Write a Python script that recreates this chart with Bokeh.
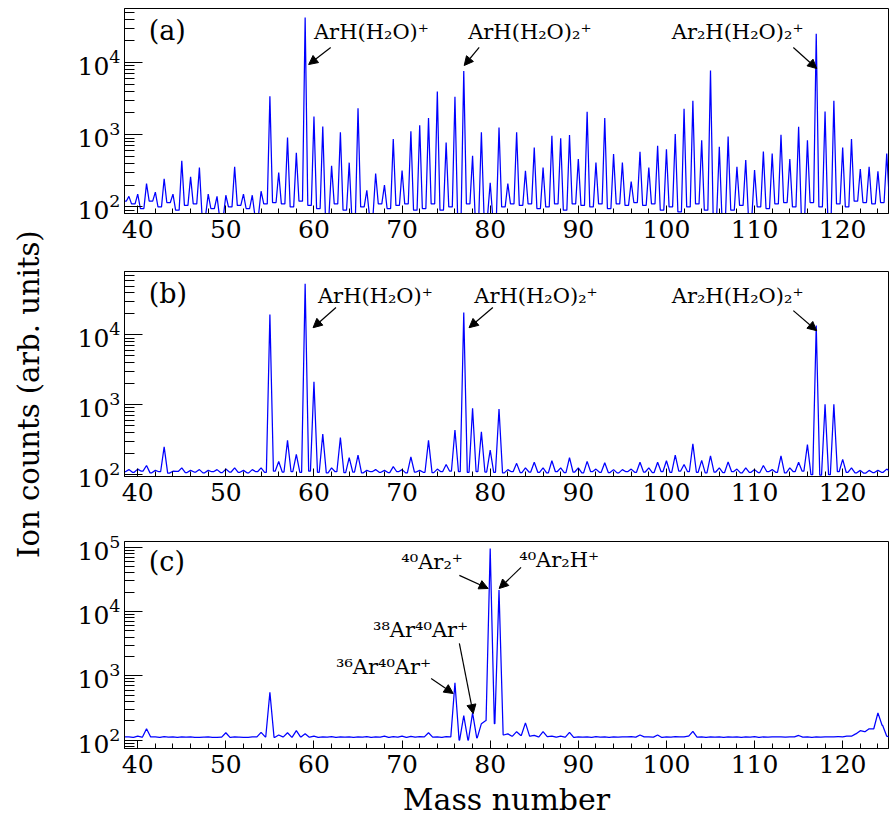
import math
from bokeh.plotting import figure
from bokeh.models import Range1d, SingleIntervalTicker, LogTicker, Arrow, NormalHead, Label
from bokeh.layouts import row, column
from bokeh.embed import file_html
from bokeh.resources import INLINE
from bokeh.core.properties import value

# ---------------- data ----------------
MASSES = list(range(39, 126))          # integer mass numbers 39..125

# panel (a): peak height at each integer mass
A_PEAKS = [140, 150, 210, 160, 245, 150, 435, 262, 350, 150,      # 39-48
           140, 145, 360, 150, 145, 165, 3400, 300, 915, 560,     # 49-58
           42000, 1780, 1300, 370, 1080, 410, 2330, 170, 290, 200,  # 59-68
           870, 320, 1120, 1350, 1700, 3950, 780, 3360, 7600, 510,  # 69-78
           1080, 216, 1260, 210, 1080, 316, 665, 350, 970, 890,     # 79-88
           990, 460, 2080, 410, 1700, 540, 410, 225, 580, 350,      # 89-98
           700, 630, 1020, 2280, 2960, 840, 7740, 680, 940, 360,    # 99-108
           445, 325, 585, 550, 1000, 460, 1290, 840, 25000, 2100,   # 109-118
           2960, 665, 870, 335, 360, 310, 550]                      # 119-125
# panel (a): baseline level between masses (38.5, 39.5, ..., 125.5)
A_VALLEYS = [120, 110, 95, 120, 100, 115, 90, 105, 110, 75,
             95, 70, 100, 105, 95, 75, 110, 115, 110, 100,
             120, 105, 95, 75, 110, 90, 70, 100, 75, 110,
             95, 105, 110, 90, 95, 110, 90, 100, 75, 110,
             70, 75, 70, 100, 110, 105, 110, 95, 100, 110,
             90, 110, 105, 100, 110, 95, 110, 105, 115, 105,
             110, 90, 100, 85, 100, 110, 90, 75, 70, 90,
             105, 75, 100, 95, 110, 115, 100, 80, 115, 100,
             80, 110, 100, 120, 115, 110, 115, 120]

# panel (b)
B_PEAKS = [118, 120, 135, 115, 250, 112, 125, 115, 118, 115,
           118, 120, 125, 115, 118, 125, 19600, 154, 310, 195,
           54000, 2140, 380, 125, 340, 175, 190, 115, 118, 115,
           130, 118, 180, 115, 310, 120, 140, 435, 21000, 890,
           410, 225, 870, 118, 145, 125, 150, 125, 158, 125,
           175, 125, 155, 120, 148, 118, 118, 120, 150, 125,
           150, 158, 190, 140, 275, 160, 185, 125, 152, 120,
           125, 118, 135, 118, 185, 125, 150, 270, 13600, 1020,
           1020, 165, 125, 115, 115, 115, 120]
B_VALLEYS = [110, 108, 112, 106, 110, 105, 111, 107, 109, 106,
             110, 107, 109, 108, 106, 110, 108, 112, 109, 110,
             108, 112, 108, 106, 110, 107, 109, 106, 110, 108,
             107, 110, 106, 109, 108, 107, 110, 112, 110, 108,
             110, 109, 108, 106, 110, 107, 109, 108, 106, 110,
             107, 109, 106, 110, 108, 107, 106, 110, 108, 109,
             107, 110, 108, 112, 110, 108, 106, 109, 107, 110,
             106, 108, 107, 110, 108, 106, 110, 112, 100, 98,
             100, 110, 108, 106, 105, 107, 108, 110]

# panel (c)
C_PEAKS = [112, 115, 150, 112, 113, 112, 112, 112, 110, 112,
           110, 130, 112, 110, 112, 132, 555, 120, 130, 140,
           125, 115, 112, 113, 112, 112, 112, 113, 112, 115,
           113, 115, 114, 113, 130, 112, 113, 780, 240, 265,
           180, 94500, 21400, 125, 135, 185, 118, 135, 115, 115,
           132, 112, 112, 113, 112, 112, 112, 113, 120, 112,
           120, 112, 113, 112, 137, 112, 112, 112, 112, 112,
           112, 113, 112, 112, 112, 112, 118, 112, 112, 112,
           112, 112, 115, 140, 150, 265, 115]
C_VALLEYS = [112, 110, 111, 112, 110, 111, 110, 111, 110, 111,
             110, 111, 110, 111, 110, 112, 112, 110, 112, 111,
             112, 111, 110, 111, 110, 111, 110, 111, 110, 111,
             110, 111, 110, 111, 112, 111, 110, 112, 100, 100,
             108, 200, 180, 120, 115, 118, 115, 112, 113, 111,
             111, 110, 111, 110, 111, 110, 111, 112, 111, 112,
             111, 110, 111, 112, 115, 111, 110, 111, 110, 111,
             110, 111, 110, 111, 112, 111, 112, 111, 110, 111,
             112, 113, 115, 125, 135, 150, 170, 110]

X_TICK_STEP = 10
FONT = "DejaVu Serif"
BLUE = "#0000ff"


def trace(peaks, valleys, half):
    xs = [MASSES[0] - 0.5]
    ys = [valleys[0]]
    for i, m in enumerate(MASSES):
        xs += [m - half, m, m + half, m + 0.5]
        ys += [valleys[i], peaks[i], valleys[i + 1], valleys[i + 1]]
    return xs, ys


def panel(height, top, bottom, yr, peaks, valleys, half, xlabel=None):
    p = figure(width=829, height=height, x_range=Range1d(38.5, 125.2),
               y_range=Range1d(*yr), y_axis_type="log",
               output_backend="svg", toolbar_location=None, title=None,
               min_border_left=64, min_border_right=1,
               min_border_top=top, min_border_bottom=bottom)
    xs, ys = trace(peaks, valleys, half)
    p.line(xs, ys, line_color=BLUE, line_width=1.25)
    p.xgrid.visible = False
    p.ygrid.visible = False
    p.outline_line_color = "black"
    p.outline_line_width = 1
    p.background_fill_color = "white"
    p.border_fill_color = "white"

    xa = p.xaxis[0]
    xa.ticker = SingleIntervalTicker(interval=X_TICK_STEP, num_minor_ticks=5)
    xa.major_tick_in = 8
    xa.major_tick_out = 0
    xa.minor_tick_in = 5
    xa.minor_tick_out = 0
    xa.major_label_standoff = 6
    xa.major_label_text_font = FONT
    xa.major_label_text_font_size = "25px"
    xa.major_label_text_color = "black"
    xa.axis_line_color = "black"
    if xlabel:
        xa.axis_label = xlabel
        xa.axis_label_text_font = FONT
        xa.axis_label_text_font_size = "30px"
        xa.axis_label_text_font_style = "normal"
        xa.axis_label_text_color = "black"
        xa.axis_label_standoff = 6

    ya = p.yaxis[0]
    ya.ticker = LogTicker(num_minor_ticks=10)
    ya.major_tick_in = 18
    ya.major_tick_out = 0
    ya.minor_tick_in = 10
    ya.minor_tick_out = 0
    ya.major_label_standoff = 4
    ya.major_label_text_font = FONT
    ya.major_label_text_font_size = "25px"
    ya.major_label_text_color = "black"
    ya.axis_line_color = "black"
    return p


def add_text(p, x, y, text, size="21px", align="left"):
    p.add_layout(Label(x=x, y=y, text=text, text_font=FONT, text_font_size=size,
                       text_align=align, text_baseline="middle", text_color="black"))


def add_arrow(p, x0, y0, x1, y1):
    p.add_layout(Arrow(end=NormalHead(size=9, fill_color="black", line_color="black", line_width=1),
                       x_start=x0, y_start=y0, x_end=x1, y_end=y1,
                       line_color="black", line_width=1.2))


pa = panel(258, 8, 45, (81, 56000), A_PEAKS, A_VALLEYS, 0.3)
add_text(pa, 41.25, 27800, "(a)", size="27px")
add_text(pa, 60.0, 26100, "ArH(H₂O)⁺")
add_arrow(pa, 61.9, 16150, 59.4, 9380)
add_text(pa, 77.5, 26100, "ArH(H₂O)₂⁺")
add_arrow(pa, 78.75, 16150, 77.05, 9090)
add_text(pa, 100.6, 26100, "Ar₂H(H₂O)₂⁺")
add_arrow(pa, 114.4, 16150, 117.05, 8250)

pb = panel(270, 13, 52, (94, 81000), B_PEAKS, B_VALLEYS, 0.4)
add_text(pb, 41.25, 39200, "(b)", size="27px")
add_text(pb, 60.45, 36600, "ArH(H₂O)⁺")
add_arrow(pb, 62.5, 24700, 59.9, 12700)
add_text(pb, 78.2, 36600, "ArH(H₂O)₂⁺")
add_arrow(pb, 80.3, 24700, 77.6, 12700)
add_text(pb, 100.6, 36600, "Ar₂H(H₂O)₂⁺")
add_arrow(pb, 114.4, 22300, 117.05, 11500)

pc = panel(292, 13, 72, (74, 122000), C_PEAKS, C_VALLEYS, 0.47, xlabel="Mass number")
add_text(pc, 41.25, 60000, "(c)", size="27px")
add_text(pc, 76.9, 57800, "⁴⁰Ar₂⁺", align="right")
add_arrow(pc, 76.5, 36300, 79.77, 22700)
add_text(pc, 83.3, 62100, "⁴⁰Ar₂H⁺")
add_arrow(pc, 83.5, 48300, 81.02, 22700)
add_text(pc, 77.5, 5070, "³⁸Ar⁴⁰Ar⁺", align="right")
add_arrow(pc, 76.5, 3180, 78.07, 258)
add_text(pc, 73.3, 1350, "³⁶Ar⁴⁰Ar⁺", align="right")
add_arrow(pc, 73.3, 908, 75.8, 530)

lf = figure(width=60, height=820, x_range=Range1d(0, 1), y_range=Range1d(0, 1),
            output_backend="svg", toolbar_location=None, title=None, min_border=0,
            x_axis_location=None, y_axis_location=None)
lf.xgrid.visible = False
lf.ygrid.visible = False
lf.outline_line_color = None
lf.text(x=[0.47], y=[0.52], text=["Ion counts (arb. units)"], angle=math.pi / 2,
        text_align="center", text_baseline="middle", text_font=value(FONT),
        text_font_size="29px", text_color="black")

layout = row(lf, column(pa, pb, pc))
open("out.html", "w").write(file_html(layout, INLINE))
